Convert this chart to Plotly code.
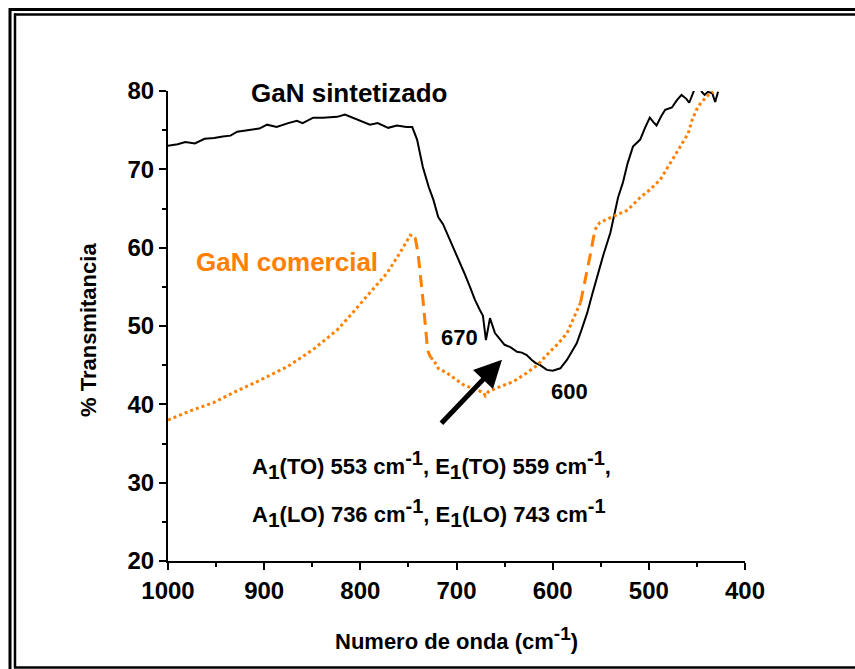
import plotly.graph_objects as go

# ---------------- data ----------------
sint_x = [1000, 990, 982, 972, 962, 952, 943, 935, 928, 913, 905, 897, 887, 875, 866, 860,
          849, 839, 824, 816, 808, 798, 790, 782, 771, 762, 752, 746, 741, 735, 729, 724,
          719, 714, 710, 704, 698, 692, 686, 681, 676, 672.5, 669.4, 665.2, 660, 655, 650,
          644, 637, 632, 627, 622, 618, 613, 606, 600, 592, 585, 580, 575, 570, 564, 559,
          554, 547, 540, 536, 532, 527, 522, 516.5, 512, 509, 504, 499, 495, 492, 487, 483,
          476, 471, 466, 461, 458, 454, 450, 446, 445, 442, 438.5, 434, 431, 428]
sint_y = [73.0, 73.2, 73.5, 73.3, 73.9, 74.0, 74.2, 74.3, 74.8, 75.0, 75.2, 75.7, 75.4, 75.9, 76.2, 75.9,
          76.6, 76.6, 76.7, 77.0, 76.6, 76.2, 75.7, 75.9, 75.3, 75.6, 75.4, 75.4, 73.8, 70.3, 67.8, 66.1,
          63.9, 63.0, 61.9, 60.2, 58.4, 56.8, 55.0, 53.4, 52.1, 51.3, 48.2, 51.0, 49.1, 48.3, 47.6,
          47.3, 46.7, 46.6, 46.3, 45.7, 45.3, 45.0, 44.4, 44.3, 44.6, 45.7, 46.7, 47.8, 49.5, 51.7, 54.0,
          56.3, 59.2, 61.9, 64.0, 66.4, 68.3, 70.8, 72.9, 73.5, 73.8, 75.3, 76.6, 76.0, 75.6, 76.8, 77.6,
          77.9, 78.8, 79.5, 79.0, 78.5, 79.9, 81.0, 80.5, 79.9, 79.5, 79.9, 79.7, 78.6, 79.9]

com_x = [1000, 974, 953, 932, 904, 876, 849, 824, 808, 790, 772, 759, 751, 748, 743,
         740, 735, 730, 727,
         724, 719, 710, 693, 679, 672, 670, 667, 658, 641, 627, 616, 603, 594, 585, 578, 571,
         566, 561, 556,
         551, 537, 522, 509, 498, 488, 478, 468, 459, 455, 449, 440, 433]
com_y = [38.0, 39.3, 40.2, 41.5, 43.1, 44.8, 47.0, 49.5, 51.7, 54.2, 56.8, 59.3, 61.0, 61.6, 61.3,
         59.3, 53.5, 46.9, 46.0,
         45.7, 44.6, 44.0, 42.5, 41.8, 41.5, 41.1, 41.6, 42.1, 42.9, 44.0, 45.0, 46.7, 47.8, 49.1, 51.0, 53.0,
         55.9, 59.0, 62.3,
         63.2, 64.0, 64.8, 66.4, 67.5, 68.7, 70.8, 72.9, 74.6, 76.3, 78.0, 79.3, 79.9]

# index ranges of the commercial curve and their line style
com_segments = [(0, 14, "dot"), (14, 18, "dash"), (18, 35, "dot"), (35, 38, "dash"), (38, 51, "dot")]

x_ticks = [1000, 900, 800, 700, 600, 500, 400]
y_ticks = [20, 30, 40, 50, 60, 70, 80]

BLACK = "#000000"
ORANGE = "#FF8000"
FONT = "Liberation Sans, Arial, sans-serif"

fig = go.Figure()

fig.add_trace(go.Scatter(x=sint_x, y=sint_y, mode="lines",
                         line=dict(color=BLACK, width=2), showlegend=False))

for i0, i1, style in com_segments:
    dash = "3px,3px" if style == "dot" else "12px,7px"
    fig.add_trace(go.Scatter(x=com_x[i0:i1 + 1], y=com_y[i0:i1 + 1], mode="lines",
                             line=dict(color=ORANGE, width=3, dash=dash), showlegend=False))

# ---------- layout ----------
L, R, T, B = 168, 110, 91, 108
W, H = 855, 669
pw, ph = W - L - R, H - T - B


def px(x):
    return (x - L) / pw


def py(y):
    return (H - B - y) / ph


fig.update_layout(
    width=W, height=H,
    margin=dict(l=L, r=R, t=T, b=B),
    paper_bgcolor="white", plot_bgcolor="white",
    font=dict(family=FONT, color=BLACK),
    xaxis=dict(range=[1000, 400], tickvals=x_ticks, ticks="outside", ticklen=7, tickwidth=2,
               tickcolor=BLACK, showline=True, linewidth=2, linecolor=BLACK, showgrid=False,
               zeroline=False, tickfont=dict(size=24, family=FONT, weight="bold"),
               minor=dict(dtick=50, ticks="outside", ticklen=4, tickwidth=2, tickcolor=BLACK)),
    yaxis=dict(range=[20, 80], tickvals=y_ticks, ticks="outside", ticklen=7, tickwidth=2,
               tickcolor=BLACK, showline=True, linewidth=2, linecolor=BLACK, showgrid=False,
               zeroline=False, tickfont=dict(size=24, family=FONT, weight="bold"),
               minor=dict(dtick=5, ticks="outside", ticklen=4, tickwidth=2, tickcolor=BLACK)),
)

# frame around the picture
shapes = [
    dict(x0=px(9), x1=px(W), y0=py(9.5), y1=py(9.5), width=3),
    dict(x0=px(10), x1=px(10), y0=py(8), y1=py(H), width=3),
    dict(x0=px(14), x1=px(W), y0=py(14.5), y1=py(14.5), width=2.5),
    dict(x0=px(15), x1=px(15), y0=py(13.5), y1=py(668), width=2.5),
    dict(x0=px(14), x1=px(W), y0=py(667.5), y1=py(667.5), width=2.5),
]
for s in shapes:
    fig.add_shape(type="line", xref="paper", yref="paper", x0=s["x0"], x1=s["x1"],
                  y0=s["y0"], y1=s["y1"], line=dict(color=BLACK, width=s["width"]))

bold = dict(family=FONT, weight="bold")

ann = [
    dict(x=811.8, y=79.8, text="GaN sintetizado", size=26, color=BLACK),
    dict(x=876.3, y=58.2, text="GaN comercial", size=26, color=ORANGE),
    dict(x=696.4, y=48.5, text="670", size=22, color=BLACK),
    dict(x=582, y=41.6, text="600", size=22, color=BLACK),
]
for a in ann:
    fig.add_annotation(x=a["x"], y=a["y"], xref="x", yref="y", text=a["text"], showarrow=False,
                       xanchor="center", yanchor="middle",
                       font=dict(size=a["size"], color=a["color"], **bold))

SUB1 = '<sub><span style="font-size:21px">1</span></sub>'
SUPM1 = '<sup><span style="font-size:20px">-1</span></sup>'
lines = [
    (f"A{SUB1}(TO) 553 cm{SUPM1}, E{SUB1}(TO) 559 cm{SUPM1},", 32.3),
    (f"A{SUB1}(LO) 736 cm{SUPM1}, E{SUB1}(LO) 743 cm{SUPM1}", 26.1),
]
for txt, yy in lines:
    fig.add_annotation(x=914.7, y=yy, xref="x", yref="y", text=txt, showarrow=False,
                       xanchor="left", yanchor="middle", align="left",
                       font=dict(size=22, color=BLACK, **bold))

# arrow
fig.add_annotation(x=652.7, y=45.7, ax=717.2, ay=37.4, xref="x", yref="y", axref="x", ayref="y",
                   text="", showarrow=True, arrowhead=2, arrowsize=1.1, arrowwidth=5,
                   arrowcolor=BLACK)

# axis titles
fig.add_annotation(x=px(456), y=py(638), xref="paper", yref="paper",
                   text='Numero de onda (cm<sup><span style="font-size:19px">-1</span></sup>)',
                   showarrow=False, xanchor="center", yanchor="middle",
                   font=dict(size=22, color=BLACK, **bold))
fig.add_annotation(x=px(88), y=py(330), xref="paper", yref="paper",
                   text="% Transmitancia", showarrow=False, textangle=-90,
                   xanchor="center", yanchor="middle", font=dict(size=22, color=BLACK, **bold))

fig.write_html("out.html")
